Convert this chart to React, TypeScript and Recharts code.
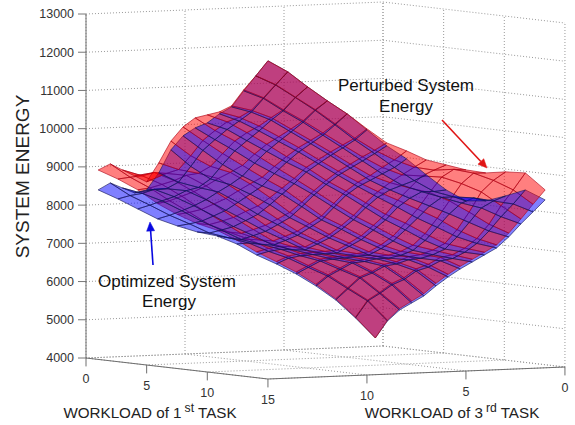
import { ScatterChart, Scatter, XAxis, YAxis } from "recharts";

// rows: workload of 1st task 1..15, columns: workload of 3rd task 15..1
const optimizedEnergy = [
  [8435, 8178, 7895, 7613, 7408, 7230, 7105, 6874, 6565, 6309, 6026, 5691, 5304, 4812, 4267],
  [8654, 8303, 8031, 7745, 7500, 7239, 7091, 6934, 6695, 6494, 6234, 5980, 5632, 5292, 4749],
  [8560, 8396, 8180, 7900, 7606, 7353, 7086, 6939, 6785, 6595, 6436, 6192, 5952, 5526, 5073],
  [8466, 8539, 8327, 8067, 7780, 7481, 7223, 6952, 6811, 6664, 6523, 6401, 6118, 5786, 5293],
  [8581, 8592, 8520, 8264, 7964, 7673, 7371, 7112, 6844, 6719, 6590, 6477, 6333, 5963, 5513],
  [9063, 8800, 8640, 8503, 8207, 7874, 7582, 7282, 7033, 6778, 6673, 6584, 6428, 6221, 5812],
  [9702, 9248, 8900, 8730, 8460, 8160, 7802, 7517, 7228, 6987, 6742, 6638, 6575, 6361, 6084],
  [10105, 9704, 9312, 8990, 8710, 8475, 8125, 7757, 7491, 7200, 6944, 6750, 6650, 6563, 6330],
  [10351, 10021, 9706, 9365, 9070, 8785, 8468, 8120, 7780, 7488, 7180, 6916, 6780, 6660, 6550],
  [10518, 10324, 10010, 9707, 9403, 9127, 8781, 8474, 8132, 7790, 7508, 7210, 6965, 6860, 6770],
  [10791, 10581, 10302, 10002, 9708, 9381, 9056, 8738, 8440, 8155, 7850, 7590, 7320, 7128, 6990],
  [11010, 10850, 10618, 10289, 9962, 9631, 9283, 8940, 8670, 8430, 8208, 7980, 7735, 7490, 7314],
  [11466, 11245, 10900, 10580, 10221, 9867, 9505, 9148, 8830, 8640, 8470, 8300, 8150, 7900, 7691],
  [11895, 11634, 11285, 10928, 10528, 10110, 9735, 9351, 8988, 8680, 8520, 8470, 8370, 8270, 8042],
  [12325, 12016, 11602, 11215, 10853, 10414, 9974, 9613, 9173, 8759, 8450, 8429, 8539, 8675, 8393],
];

// how far the perturbed surface sits above the optimized one
const perturbationGap = [
  [520, 520, 500, 400, 300, 220, 150, 100, 80, 60, 50, 40, 30, 20, 0],
  [498, 480, 450, 380, 300, 220, 150, 100, 80, 60, 50, 40, 30, 25, 20],
  [471, 460, 430, 380, 310, 230, 160, 110, 80, 60, 50, 45, 35, 30, 40],
  [445, 440, 420, 370, 310, 240, 160, 110, 80, 60, 55, 50, 45, 40, 50],
  [210, 400, 400, 360, 310, 240, 160, 110, 80, 65, 60, 55, 50, 50, 60],
  [262, 330, 370, 350, 300, 220, 150, 110, 85, 75, 70, 65, 60, 60, 70],
  [230, 280, 330, 320, 270, 190, 140, 110, 95, 90, 85, 80, 80, 75, 70],
  [235, 260, 290, 280, 230, 160, 125, 110, 105, 105, 105, 105, 100, 90, 70],
  [262, 240, 260, 240, 190, 140, 115, 110, 115, 125, 135, 135, 125, 100, 70],
  [210, 200, 210, 190, 150, 125, 110, 115, 130, 150, 180, 180, 150, 110, 70],
  [52, 100, 130, 130, 120, 110, 110, 120, 150, 190, 240, 240, 190, 130, 80],
  [27, 50, 70, 80, 90, 95, 105, 130, 190, 270, 350, 340, 270, 180, 100],
  [26, 20, 30, 40, 60, 80, 110, 170, 270, 410, 530, 510, 420, 290, 130],
  [0, 10, 10, 20, 30, 50, 90, 200, 350, 560, 720, 650, 540, 370, 200],
  [0, 0, 0, 0, 0, 26, 78, 209, 392, 655, 812, 733, 629, 445, 261],
];

const energyTicks = [4000, 5000, 6000, 7000, 8000, 9000, 10000, 11000, 12000, 13000];
const firstTaskTicks = [0, 5, 10, 15];
const thirdTaskTicks = [0, 5, 10];
const wallTicks = [0, 5, 10, 15];

const WIDTH = 575;
const HEIGHT = 425;
const AXIS_WIDTH = 86;
const PER_PX = 9000 / 344;
const FONT = "'Liberation Sans', Arial, sans-serif";

// oblique view of the box: (1st task, 3rd task, energy) -> chart coordinates
const project = (u: number, v: number, e: number) => ({
  x: 383 + 12.13 * u - 19.8 * v,
  y: e + (12 - 1.4 * u - 0.8 * v) * PER_PX,
});

type Patch = { pts: { x: number; y: number }[]; fill: string; stroke: string; sw: number; dash?: string };

const gridLine = (a: number[], b: number[]): Patch => ({
  pts: [project(a[0], a[1], a[2]), project(b[0], b[1], b[2])],
  fill: "none",
  stroke: "#9a9a9a",
  sw: 1,
  dash: "1 2",
});

const solidLine = (a: number[], b: number[]): Patch => ({
  pts: [project(a[0], a[1], a[2]), project(b[0], b[1], b[2])],
  fill: "none",
  stroke: "#6e6e6e",
  sw: 1,
});

const wallPatches: Patch[] = [
  ...energyTicks.flatMap((e) => [gridLine([0, 15, e], [0, 0, e]), gridLine([0, 0, e], [15, 0, e])]),
  ...wallTicks.flatMap((t) => [
    gridLine([0, t, 4000], [0, t, 13000]),
    gridLine([t, 0, 4000], [t, 0, 13000]),
    gridLine([t, 0, 4000], [t, 15, 4000]),
    gridLine([0, t, 4000], [15, t, 4000]),
  ]),
];

const axisPatches: Patch[] = [
  solidLine([0, 15, 4000], [0, 15, 13000]),
  solidLine([0, 15, 4000], [15, 15, 4000]),
  solidLine([15, 15, 4000], [15, 0, 4000]),
  ...firstTaskTicks.map((t) => solidLine([t, 15, 4000], [t, 15, 3780])),
  ...thirdTaskTicks.map((t) => solidLine([15, t, 4000], [15, t, 3780])),
];

const surfacePatch = (r: number, c: number, withGap: boolean): Patch => {
  const node = (i: number, j: number) =>
    project(i + 1, 15 - j, optimizedEnergy[i][j] + (withGap ? perturbationGap[i][j] : 0));
  return {
    pts: [node(r, c), node(r + 1, c), node(r + 1, c + 1), node(r, c + 1), node(r, c)],
    fill: withGap ? "rgba(255,0,0,0.5)" : "rgba(0,0,255,0.5)",
    stroke: withGap ? "rgba(170,0,20,0.6)" : "rgba(20,20,80,0.6)",
    sw: 1,
  };
};

// back to front, as the original renderer painted the two surfaces
const surfaceCells: number[][] = [];
optimizedEnergy.slice(1).forEach((row, r) =>
  row.slice(1).forEach((_, c) => surfaceCells.push([r, c])),
);
surfaceCells.sort((a, b) => a[0] - a[1] - (b[0] - b[1]));
const surfacePatches = surfaceCells.flatMap(([r, c]) => [
  surfacePatch(r, c, false),
  surfacePatch(r, c, true),
]);

const chartY = (px: number) => 13000 + (14 - px) * PER_PX;

const arrow = (x1: number, py1: number, x2: number, py2: number, color: string): Patch[] => {
  const len = Math.hypot(x2 - x1, py2 - py1);
  const ux = (x2 - x1) / len;
  const uy = (py2 - py1) / len;
  const bx = x2 - ux * 9;
  const by = py2 - uy * 9;
  const head = [
    { x: x2, y: chartY(py2) },
    { x: bx - uy * 4, y: chartY(by + ux * 4) },
    { x: bx + uy * 4, y: chartY(by - ux * 4) },
    { x: x2, y: chartY(py2) },
  ];
  return [
    { pts: [{ x: x1, y: chartY(py1) }, { x: bx, y: chartY(by) }], fill: "none", stroke: color, sw: 1.6 },
    { pts: head, fill: color, stroke: color, sw: 0.5 },
  ];
};

const arrowPatches = [...arrow(442, 120, 487, 168, "#e01515"), ...arrow(153, 265, 150, 222, "#0808e0")];

const noMark = () => <g />;

const patchLayer = (key: string, patches: Patch[]) => (
  <Scatter
    key={key}
    data={patches.flatMap((p) => p.pts)}
    isAnimationActive={false}
    shape={noMark}
    line={(props: any) => {
      let n = 0;
      return (
        <g>
          {patches.map((p, i) => {
            const seg = props.points.slice(n, n + p.pts.length);
            n += p.pts.length;
            const d = seg.map((q: any, k: number) => `${k ? "L" : "M"}${q.x} ${q.y}`).join("");
            return <path key={i} d={d} fill={p.fill} stroke={p.stroke} strokeWidth={p.sw} strokeDasharray={p.dash} />;
          })}
        </g>
      );
    }}
    lineType="joint"
  />
);

const textMark = ({ cx, cy, payload }: any) => (
  <text x={cx} y={cy} textAnchor="middle" fontFamily={FONT} fontSize={payload.size} fill={payload.color}>
    {payload.text}
    {payload.sup && (
      <tspan fontSize={payload.size - 3} dx={3} dy={-6}>
        {payload.sup}
      </tspan>
    )}
    {payload.tail && (
      <tspan dx={4} dy={payload.sup ? 6 : 0}>
        {payload.tail}
      </tspan>
    )}
  </text>
);

const tickLabels = [
  ...firstTaskTicks.map((t) => {
    const p = project(t, 15, 4000);
    return { x: p.x, y: p.y - 25 * PER_PX, text: String(t), size: 12.5, color: "#333" };
  }),
  ...thirdTaskTicks.map((t) => {
    const p = project(15, t, 4000);
    return { x: p.x, y: p.y - 25 * PER_PX, text: String(t), size: 12.5, color: "#333" };
  }),
];

const textNotes = [
  { x: 406, y: chartY(91), text: "Perturbed System", size: 17, color: "#111" },
  { x: 406, y: chartY(112), text: "Energy", size: 17, color: "#111" },
  { x: 167, y: chartY(287), text: "Optimized System", size: 17, color: "#111" },
  { x: 169, y: chartY(307), text: "Energy", size: 17, color: "#111" },
  { x: 150, y: chartY(418), text: "WORKLOAD of 1", sup: "st", tail: "TASK", size: 15.2, color: "#222" },
  { x: 452, y: chartY(418), text: "WORKLOAD of 3", sup: "rd", tail: "TASK", size: 15.2, color: "#222" },
];

export default function App() {
  return (
    <div style={{ position: "absolute", left: 0, top: 0, width: WIDTH, height: HEIGHT, background: "#fff" }}>
      <ScatterChart width={WIDTH} height={HEIGHT} margin={{ top: 0, right: 0, bottom: 0, left: 0 }}>
        <XAxis type="number" dataKey="x" domain={[AXIS_WIDTH, WIDTH]} hide />
        <YAxis
          type="number"
          dataKey="y"
          width={AXIS_WIDTH}
          domain={[chartY(HEIGHT), chartY(0)]}
          ticks={energyTicks}
          axisLine={false}
          tickSize={8}
          tickMargin={4}
          tickLine={{ stroke: "#777" }}
          tick={{ fontSize: 12.5, fontFamily: FONT, fill: "#333" }}
          interval={0}
          label={{
            value: "SYSTEM ENERGY",
            angle: -90,
            position: "insideLeft",
            offset: 22,
            dy: -36,
            style: { textAnchor: "middle", fontSize: 19, fontFamily: FONT, fill: "#222" },
          }}
        />
        {patchLayer("walls", wallPatches)}
        {patchLayer("axes", axisPatches)}
        {patchLayer("surfaces", surfacePatches)}
        {patchLayer("arrows", arrowPatches)}
        <Scatter data={tickLabels} isAnimationActive={false} shape={textMark} />
        <Scatter data={textNotes} isAnimationActive={false} shape={textMark} />
      </ScatterChart>
    </div>
  );
}
